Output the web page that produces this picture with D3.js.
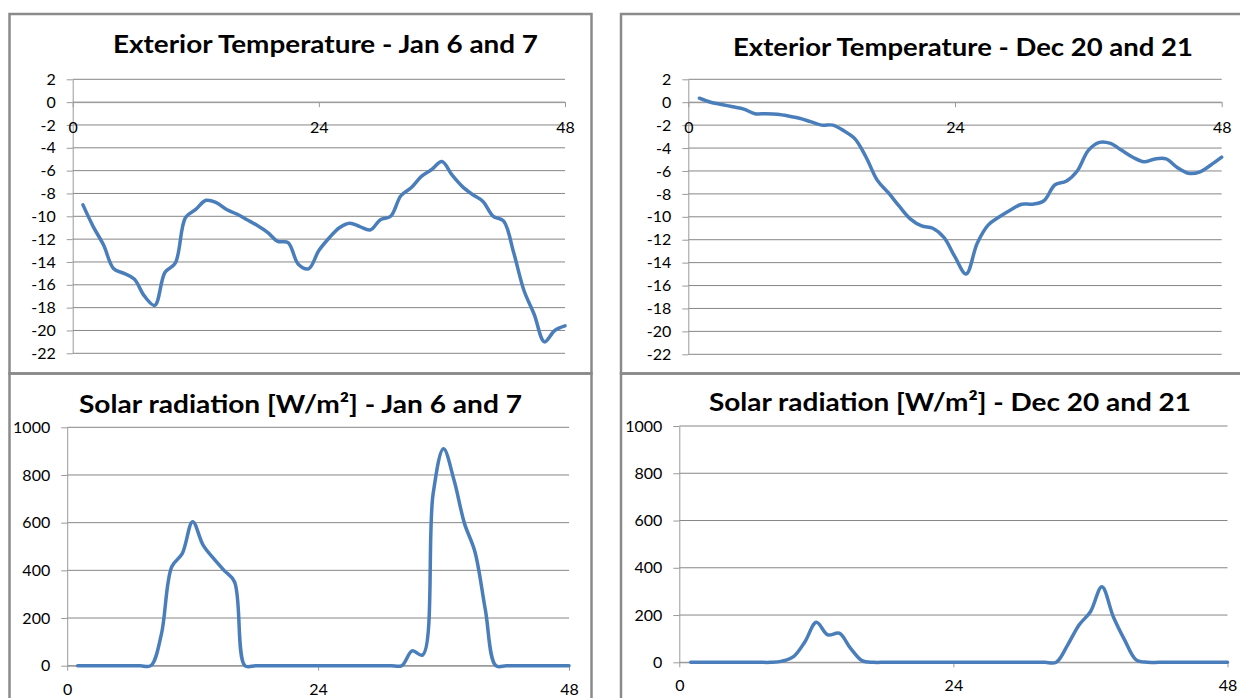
<!DOCTYPE html>
<meta charset="utf-8">
<style>
body{margin:0;background:#fff}
svg{display:block;background:#fff}
text{font-family:Lato,'Open Sans',sans-serif;fill:#000}
.title{font-size:25px;font-weight:bold}
.tick text{font-size:16px}
.grid line{stroke:#868686;stroke-width:1}
.axis path,.axis line{stroke:#9a9a9a;stroke-width:1}
.frame{fill:none;stroke:#8a8a8a;stroke-width:2.5}
.series{fill:none;stroke:#4a7ebb;stroke-width:3.5;stroke-linejoin:round;stroke-linecap:round}
</style>
<script src="https://d3js.org/d3.v7.min.js"></script>
<svg width="1240" height="698"></svg>
<script>
// hour of the two days
var hours = [1,2,3,4,5,6,7,8,9,10,11,12,13,14,15,16,17,18,19,20,21,22,23,24,
             25,26,27,28,29,30,31,32,33,34,35,36,37,38,39,40,41,42,43,44,45,46,47,48];

// exterior temperature [C]
var tempJan = [-9.0,-10.9,-12.5,-14.6,-15.0,-15.5,-17.0,-17.8,-14.9,-14.1,-10.1,-9.4,
               -8.6,-8.8,-9.4,-9.8,-10.3,-10.8,-11.4,-12.2,-12.3,-14.2,-14.6,-13.0,
               -11.9,-11.0,-10.6,-10.9,-11.2,-10.3,-10.0,-8.2,-7.5,-6.5,-5.9,-5.2,
               -6.4,-7.4,-8.1,-8.7,-10.0,-10.4,-13.2,-16.5,-18.6,-21.0,-20.0,-19.6];
var tempDec = [0.35,0.0,-0.2,-0.4,-0.6,-1.0,-1.0,-1.05,-1.2,-1.4,-1.7,-2.0,
               -2.0,-2.5,-3.2,-4.8,-6.8,-7.9,-9.1,-10.2,-10.8,-11.0,-11.8,-13.5,
               -15.0,-12.3,-10.7,-10.0,-9.4,-8.9,-8.9,-8.6,-7.2,-6.9,-6.0,-4.2,
               -3.5,-3.6,-4.2,-4.8,-5.2,-4.95,-4.95,-5.7,-6.2,-6.1,-5.5,-4.8];

// solar radiation [W/m2]
var solarJan = [0,0,0,0,0,0,0,0,130,415,470,604,
                506,450,400,352,0,0,0,0,0,0,0,0,
                0,0,0,0,0,0,0,0,62,45,720,910,
                779,597,478,234,0,0,0,0,0,0,0,0];
var solarDec = [0,0,0,0,0,0,0,0,5,24,87,169,
                116,123,59,7,0,0,0,0,0,0,0,0,
                0,0,0,0,0,0,0,0,0,73,158,214,
                320,193,94,10,0,0,0,0,0,0,0,0];

var tempTicks = [2,0,-2,-4,-6,-8,-10,-12,-14,-16,-18,-20,-22];
var solarTicks = [0,200,400,600,800,1000];
var hourTicks = [0,24,48];

var titles = ["Exterior Temperature - Jan 6 and 7",
              "Exterior Temperature - Dec 20 and 21",
              "Solar radiation [W/m\u00b2] - Jan 6 and 7",
              "Solar radiation [W/m\u00b2] - Dec 20 and 21"];

var svg = d3.select("svg");

// chart frames
svg.append("rect").attr("class","frame").attr("x",9.5).attr("y",14).attr("width",582).attr("height",359.5);
svg.append("rect").attr("class","frame").attr("x",9.5).attr("y",373.5).attr("width",582).attr("height",400);
svg.append("rect").attr("class","frame").attr("x",621).attr("y",14).attr("width",700).attr("height",359.5);
svg.append("rect").attr("class","frame").attr("x",621).attr("y",373.5).attr("width",700).attr("height",400);

function panel(p) {
  var g = svg.append("g");
  var x = d3.scaleLinear().domain([0, 48]).range([p.x0, p.x1]);
  var y = d3.scaleLinear().domain(d3.extent(p.ticks)).range([p.yb, p.yt]);

  g.append("g").attr("class", "grid")
    .selectAll("line").data(p.ticks).join("line")
    .attr("x1", p.x0).attr("x2", p.x1)
    .attr("y1", function(d) { return y(d); })
    .attr("y2", function(d) { return y(d); });

  g.append("g").attr("class", "axis")
    .attr("transform", "translate(" + p.x0 + ",0)")
    .call(d3.axisLeft(y).tickValues(p.ticks).tickSize(6).tickSizeOuter(0)
      .tickPadding(11).tickFormat(function(d) { return String(d); }));

  g.append("g").attr("class", "axis")
    .attr("transform", "translate(0," + y(0) + ")")
    .call(d3.axisBottom(x).tickValues(hourTicks).tickSize(5).tickSizeOuter(0)
      .tickPadding(p.xpad).tickFormat(function(d) { return String(d); }));

  var line = d3.line()
    .x(function(d, i) { return x(hours[i]); })
    .y(function(d) { return y(d); })
    .curve(d3.curveCatmullRom);

  g.append("path").attr("class", "series").attr("d", line(p.values));

  g.append("text").attr("class", "title")
    .attr("x", p.tx).attr("y", p.ty)
    .attr("text-anchor", "middle")
    .attr("textLength", p.tw).attr("lengthAdjust", "spacingAndGlyphs")
    .text(p.title);
}

panel({title: titles[0], values: tempJan, ticks: tempTicks,
  x0: 72.7, x1: 565, yt: 79.3, yb: 353.3, xpad: 14.5, tx: 325.5, ty: 53, tw: 425});
panel({title: titles[1], values: tempDec, ticks: tempTicks,
  x0: 688.3, x1: 1221.7, yt: 79.3, yb: 354.3, xpad: 14.5, tx: 963, ty: 56, tw: 460});
panel({title: titles[2], values: solarJan, ticks: solarTicks,
  x0: 67.2, x1: 569, yt: 427.3, yb: 665.7, xpad: 12.5, tx: 300.5, ty: 413, tw: 443});
panel({title: titles[3], values: solarDec, ticks: solarTicks,
  x0: 679.3, x1: 1227.5, yt: 426, yb: 662.3, xpad: 12.5, tx: 950, ty: 410.7, tw: 482});
</script>
